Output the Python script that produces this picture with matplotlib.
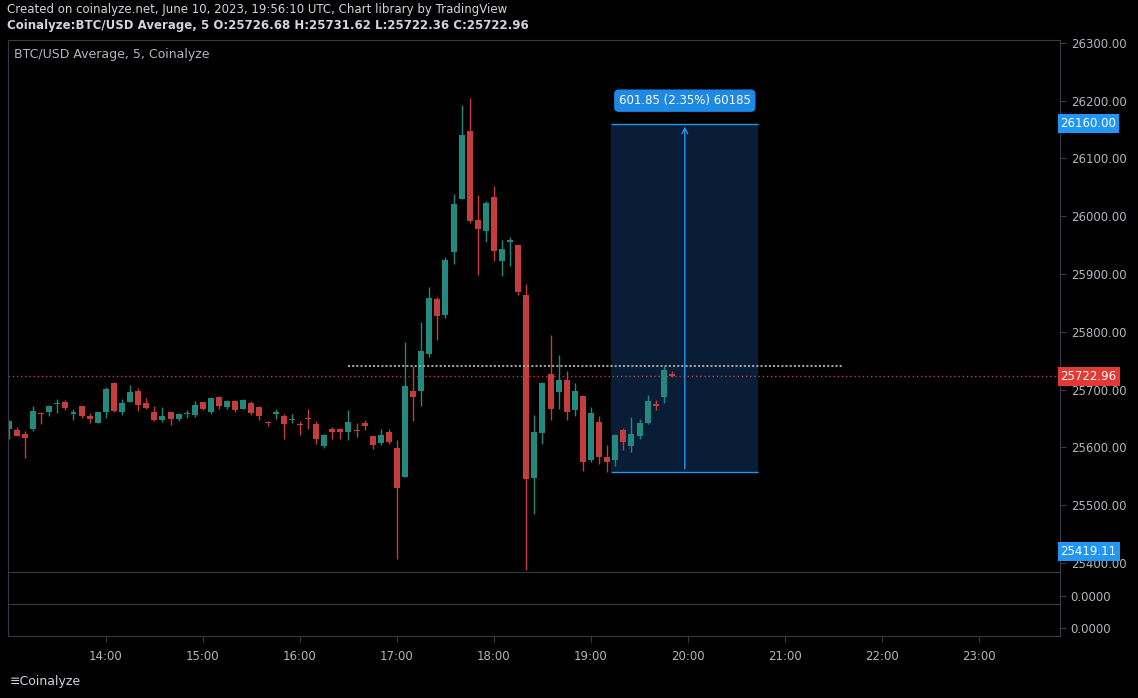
import matplotlib.pyplot as plt
from matplotlib.patches import Rectangle
import numpy as np

# 5-minute candles, starting 13:00
opens = [25632, 25630, 25623, 25632, 25659, 25661, 25675, 25679, 25658, 25672,
         25654, 25642, 25661, 25712, 25661, 25679, 25698, 25677, 25661, 25648,
         25661, 25649, 25658, 25656, 25679, 25661, 25687, 25670, 25680, 25667,
         25677, 25670, 25644, 25658, 25654, 25647, 25641, 25651, 25641, 25603,
         25632, 25632, 25627, 25630, 25642, 25620, 25608, 25627, 25599, 25549,
         25698, 25698, 25762, 25857, 25829, 25938, 26030, 26148, 25994, 25975,
         26034, 25923, 25956, 25951, 25864, 25547, 25625, 25727, 25696, 25717,
         25665, 25689, 25578, 25644, 25583, 25578, 25630, 25603, 25620, 25642,
         25675, 25687, 25726.68]
highs = [25648, 25635, 25628, 25672, 25661, 25674, 25684, 25682, 25667, 25672,
         25660, 25661, 25705, 25713, 25684, 25708, 25703, 25686, 25672, 25670,
         25661, 25660, 25665, 25680, 25679, 25686, 25689, 25682, 25682, 25684,
         25680, 25672, 25646, 25667, 25658, 25658, 25646, 25667, 25646, 25623,
         25635, 25634, 25665, 25642, 25648, 25620, 25632, 25632, 25613, 25783,
         25741, 25817, 25878, 25860, 25930, 26039, 26193, 26205, 26037, 26027,
         26053, 25959, 25964, 25951, 25883, 25656, 25713, 25795, 25760, 25732,
         25712, 25689, 25670, 25654, 25604, 25623, 25634, 25653, 25649, 25691,
         25682, 25741, 25731.62]
lows = [25615, 25619, 25581, 25629, 25641, 25654, 25660, 25665, 25648, 25651,
        25642, 25642, 25651, 25661, 25656, 25679, 25663, 25667, 25646, 25644,
        25639, 25646, 25651, 25653, 25665, 25658, 25667, 25667, 25661, 25667,
        25656, 25648, 25637, 25649, 25615, 25642, 25622, 25632, 25606, 25599,
        25615, 25615, 25613, 25618, 25630, 25597, 25604, 25606, 25407, 25549,
        25646, 25672, 25757, 25786, 25824, 25918, 26030, 25989, 25899, 25956,
        25923, 25897, 25914, 25864, 25388, 25485, 25606, 25648, 25667, 25648,
        25654, 25559, 25575, 25571, 25557, 25568, 25596, 25592, 25615, 25641,
        25665, 25677, 25722.36]
closes = [25645, 25620, 25616, 25663, 25657, 25672, 25677, 25669, 25661, 25654,
          25649, 25661, 25701, 25663, 25677, 25696, 25674, 25668, 25648, 25654,
          25649, 25658, 25660, 25674, 25667, 25686, 25672, 25680, 25665, 25682,
          25660, 25654, 25643, 25661, 25641, 25649, 25638, 25649, 25615, 25622,
          25627, 25627, 25644, 25629, 25637, 25604, 25622, 25609, 25530, 25706,
          25687, 25767, 25859, 25828, 25925, 26021, 26141, 25992, 25978, 26023,
          25940, 25944, 25959, 25869, 25545, 25627, 25712, 25667, 25717, 25661,
          25698, 25575, 25660, 25583, 25575, 25622, 25609, 25623, 25642, 25680,
          25672, 25734, 25722.96]

last_price = 25722.96
ref_level = 25741
measure_top = 26160.00
measure_bottom = 25558.15
measure_text = "601.85 (2.35%) 60185"
low_label = 25419.11
price_ticks = list(range(25400, 26301, 100))
hour_labels = ["14:00", "15:00", "16:00", "17:00", "18:00", "19:00", "20:00",
               "21:00", "22:00", "23:00"]

UP = '#22897c'
DOWN = '#c43d3d'
BLUE = '#2196f3'
TXT = '#b2b5be'
BORDER = '#363a45'
BG = '#000000'

W, H = 1138, 698
fig = plt.figure(figsize=(W / 100, H / 100), dpi=100, facecolor=BG)


def box(l, t, r, b):
    return [l / W, 1 - b / H, (r - l) / W, (b - t) / H]


mins = np.arange(len(opens)) * 5
xlim = (-0.5, 650)

ax = fig.add_axes(box(8, 40, 1060, 572))
ax.set_facecolor(BG)
for i, m in enumerate(mins):
    o, h, l, c = opens[i], highs[i], lows[i], closes[i]
    col = UP if c >= o else DOWN
    ax.vlines(m, l, h, color=col, lw=1)
    lo, hi = min(o, c), max(o, c)
    ax.add_patch(Rectangle((m - 1.85, lo), 3.7, max(hi - lo, 1.2), color=col, lw=0))

ax.set_xlim(*xlim)
ax.set_ylim(25384.4, 26305)
ax.set_xticks([])
ax.yaxis.tick_right()
ax.set_yticks(price_ticks)
ax.set_yticklabels([f"{p:.2f}" for p in price_ticks])
ax.tick_params(axis='y', colors=TXT, labelsize=8.5, length=4, pad=4, color=BORDER)
for s in ax.spines.values():
    s.set_color(BORDER)

# measure box
ax.add_patch(Rectangle((372.5, measure_bottom), 91, measure_top - measure_bottom,
                       facecolor='#0b2340', edgecolor='none', alpha=0.85, zorder=0))
ax.hlines([measure_top, measure_bottom], 372.5, 463.5, color=BLUE, lw=1)
ax.annotate('', xy=(418, measure_top), xytext=(418, measure_bottom),
            arrowprops=dict(arrowstyle='->', color=BLUE, lw=1))
ax.text(418, measure_top + 40, measure_text, ha='center', va='center', color='white',
        fontsize=8.5, bbox=dict(boxstyle='round,pad=0.4', fc='#1e88e5', ec='none'))

ax.axhline(last_price, color=DOWN, ls=(0, (1, 2)), lw=1)
ax.hlines(ref_level, 210, 515, color='#a0a0a0', ls=(0, (1, 1)), lw=1.5)

ax.text(0.006, 0.985, "BTC/USD Average, 5, Coinalyze", transform=ax.transAxes,
        color=TXT, fontsize=9, va='top')

tr = ax.get_yaxis_transform()
for val, fc in [(measure_top, BLUE), (last_price, '#e53935'), (low_label, BLUE)]:
    ax.text(1.0005, val, f"{val:.2f}", transform=tr, ha='left', va='center',
            color='white', fontsize=8.5,
            bbox=dict(boxstyle='square,pad=0.25', fc=fc, ec='none'))

# lower panes
for (t, b) in [(572, 604), (604, 636)]:
    p = fig.add_axes(box(8, t, 1060, b))
    p.set_facecolor(BG)
    p.set_xlim(*xlim)
    p.set_ylim(0, 1)
    p.yaxis.tick_right()
    p.set_yticks([0.25])
    p.set_yticklabels(["0.0000"])
    p.tick_params(axis='y', colors=TXT, labelsize=8.5, length=4, color=BORDER)
    for s in p.spines.values():
        s.set_color(BORDER)
    p.set_xticks([])
last = p
last.set_xticks(np.arange(60, 601, 60))
last.set_xticklabels(hour_labels)
last.tick_params(axis='x', colors=TXT, labelsize=8.5, length=4, pad=6, color=BORDER)

fig.text(7 / W, 1 - 9 / H, "Created on coinalyze.net, June 10, 2023, 19:56:10 UTC, Chart library by TradingView",
         color='#d1d4dc', fontsize=8.5, va='center')
fig.text(7 / W, 1 - 26 / H, "Coinalyze:BTC/USD Average, 5 O:25726.68 H:25731.62 L:25722.36 C:25722.96",
         color='#d1d4dc', fontsize=8.5, va='center', fontweight='bold')
fig.text(10 / W, 1 - 681 / H, "\u2261Coinalyze", color='#d1d4dc', fontsize=9, va='center')

fig.savefig("out.png", dpi=100, facecolor=BG)
